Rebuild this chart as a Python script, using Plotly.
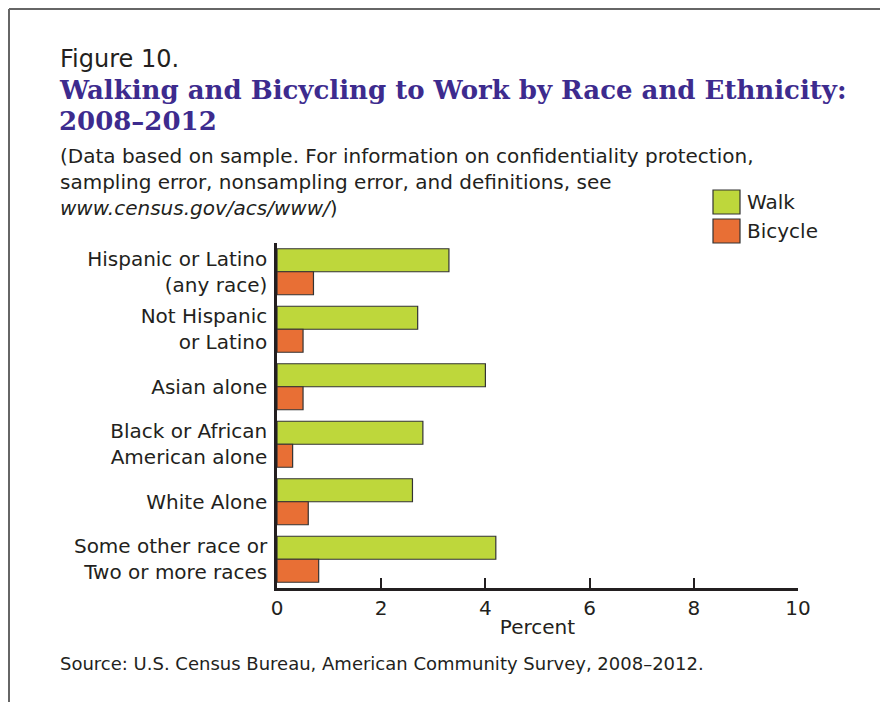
import plotly.graph_objects as go

categories = [
    "Hispanic or Latino<br>(any race)",
    "Not Hispanic<br>or Latino",
    "Asian alone",
    "Black or African<br>American alone",
    "White Alone",
    "Some other race or<br>Two or more races",
]
walk = [3.3, 2.7, 4.0, 2.8, 2.6, 4.2]
bicycle = [0.7, 0.5, 0.5, 0.3, 0.6, 0.8]
series_names = ["Walk", "Bicycle"]
series_colors = ["#BED73B", "#E86F35"]
x_ticks = [0, 2, 4, 6, 8, 10]

# page body margin offsets the figure by 8px
OFF = 8
WIN_W, WIN_H = 888, 702
W, H = WIN_W - OFF, WIN_H - OFF
L, R, T, B = 277, 798, 243, 588   # plot area in window pixels
PW, PH = R - L, B - T

def px(x):
    return (x - L) / PW

def py(y):
    return (B - y) / PH

TEXT = "#231F20"
SANS = "DejaVu Sans, sans-serif"
SERIF = "DejaVu Serif, serif"
PURPLE = "#3D2B8E"
FS = 20

fig = go.Figure()
for name, vals, col in zip(series_names, [walk, bicycle], series_colors):
    fig.add_trace(go.Bar(
        y=categories, x=vals, name=name, orientation="h",
        marker=dict(color=col, line=dict(color="#333333", width=1.2)),
        showlegend=False,
    ))

annotations = []
def txt(text, x, y, size, color=TEXT, family=SANS, xanchor="left", yanchor="middle"):
    annotations.append(dict(
        text=text, x=px(x), y=py(y), xref="paper", yref="paper",
        xanchor=xanchor, yanchor=yanchor, showarrow=False,
        font=dict(size=size, color=color, family=family), align="left",
    ))

txt("Figure 10.", 58, 59, 24)
txt("<b>Walking and Bicycling to Work by Race and Ethnicity:</b>", 57, 90, 26, PURPLE, SERIF)
txt("<b>2008–2012</b>", 57, 121, 26, PURPLE, SERIF)
txt("(Data based on sample. For information on confidentiality protection,<br>"
    "sampling error, nonsampling error, and definitions, see<br>"
    "<i>www.census.gov/acs/www/</i>)", 58, 182, FS)
txt("Source: U.S. Census Bureau, American Community Survey, 2008–2012.", 58, 663, 18)

shapes = [
    dict(type="line", xref="paper", yref="paper", x0=px(9), x1=px(900), y0=py(9), y1=py(9),
         line=dict(color="#666666", width=2)),
    dict(type="line", xref="paper", yref="paper", x0=px(9), x1=px(9), y0=py(9), y1=py(710),
         line=dict(color="#666666", width=2)),
]
leg_y = [(190, 214), (219, 243)]
for name, col, (y0, y1) in zip(series_names, series_colors, leg_y):
    shapes.append(dict(type="rect", xref="paper", yref="paper",
                       x0=px(713), x1=px(740), y0=py(y1), y1=py(y0),
                       fillcolor=col, line=dict(color="#333333", width=1.2)))
    txt(name, 745, (y0 + y1) / 2, FS)

fig.update_layout(
    width=W, height=H,
    margin=dict(l=L - OFF, r=WIN_W - R, t=T - OFF, b=WIN_H - B, pad=0),
    paper_bgcolor="white", plot_bgcolor="white",
    barmode="group", bargap=0.2, bargroupgap=0,
    font=dict(family=SANS, size=FS, color=TEXT),
    annotations=annotations, shapes=shapes,
    xaxis=dict(
        range=[0, 10], tickvals=x_ticks, ticks="inside", ticklen=10, tickwidth=2,
        tickcolor="#231F20", showline=True, linecolor="#231F20", linewidth=2.5,
        showgrid=False, zeroline=False, tickfont=dict(size=FS),
        title=dict(text="Percent", font=dict(size=FS), standoff=2),
    ),
    yaxis=dict(
        autorange="reversed", showline=True, linecolor="#231F20", linewidth=2.5,
        showgrid=False, ticks="", ticklabelstandoff=3, tickfont=dict(size=FS),
    ),
)

fig.write_html("out.html")
